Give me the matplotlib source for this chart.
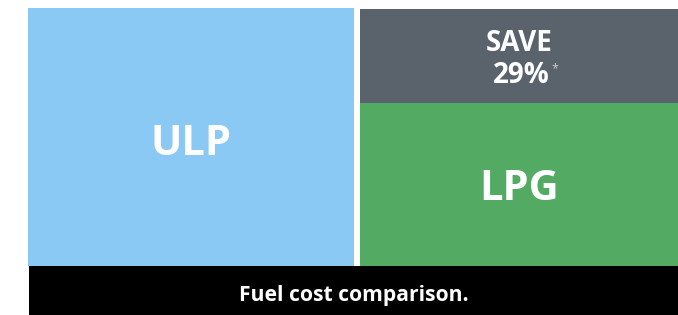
import matplotlib.pyplot as plt

# Fuel cost comparison block chart (heights as drawn in the picture)
categories = ['ULP', 'LPG']
ulp_height = 100
lpg_height = 63.3
save_height = 36.4
save_label = ['SAVE', '29%']
caption = 'Fuel cost comparison.'

BLUE = '#89C9F3'
GREY = '#5A636B'
GREEN = '#52AA63'
FONT = 'Open Sans'

W, H = 678, 315
fig = plt.figure(figsize=(W / 100, H / 100), dpi=100)

# main block area
ax = fig.add_axes([28 / W, (H - 265.7) / H, 650 / W, 257.7 / H])
u = 332.0
widths = [326 / u, 318 / u]
xs = [0, 1]
ax.bar(xs[0], ulp_height, width=widths[0], align='edge', color=BLUE, linewidth=0)
ax.bar(xs[1], lpg_height, width=widths[1], align='edge', color=GREEN, linewidth=0)
ax.bar(xs[1], save_height, bottom=lpg_height, width=widths[1], align='edge',
       color=GREY, linewidth=0)
ax.set_xlim(0, 650 / u)
ax.set_ylim(0, 100)
ax.axis('off')

cx0 = xs[0] + widths[0] / 2
cx1 = xs[1] + widths[1] / 2
ax.text(cx0, 0.43 * ulp_height, categories[0], ha='center', va='baseline',
        color='white', fontsize=30, fontweight='bold', family=FONT)
ax.text(cx1, 0.40 * lpg_height, categories[1], ha='center', va='baseline',
        color='white', fontsize=30, fontweight='bold', family=FONT)
ax.text(cx1, lpg_height + 0.55 * save_height, save_label[0], ha='center', va='baseline',
        color='white', fontsize=20, fontweight='bold', family=FONT)
t = ax.text(cx1 + 0.008, lpg_height + 0.21 * save_height, save_label[1], ha='center',
            va='baseline', color='white', fontsize=20, fontweight='bold', family=FONT)
ax.annotate('*', xy=(1, 1), xycoords=t, xytext=(1, -1), textcoords='offset points',
            ha='left', va='top', color='#c9ced2', fontsize=9, family=FONT)

# caption band
cap = fig.add_axes([29 / W, 0, 649 / W, 49.3 / H])
cap.set_facecolor('black')
cap.set_xticks([])
cap.set_yticks([])
for s in cap.spines.values():
    s.set_visible(False)
cap.text(0.5, 0.40, caption, ha='center', va='center', color='white',
         fontsize=15.2, fontweight='bold', family=FONT, transform=cap.transAxes)

fig.savefig('out.png', dpi=100)
